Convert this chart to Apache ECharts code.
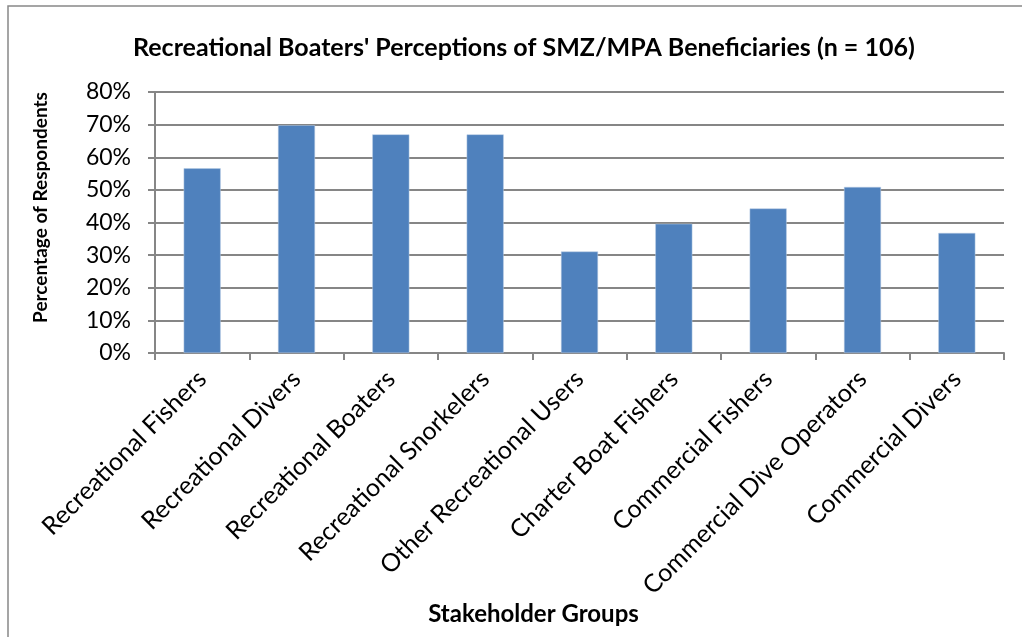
<!DOCTYPE html>
<html>
<head>
<meta charset="utf-8">
<script src="https://cdn.jsdelivr.net/npm/echarts@6/dist/echarts.min.js"></script>
<style>
  html, body { margin: 0; padding: 0; background: #fff; }
  #chart { width: 1022px; height: 637px; }
</style>
</head>
<body>
<div id="chart"></div>
<script>
// 数据：利益相关群体与受访者百分比
const categories = [
    'Recreational Fishers', 'Recreational Divers', 'Recreational Boaters',
    'Recreational Snorkelers', 'Other Recreational Users', 'Charter Boat Fishers',
    'Commercial Fishers', 'Commercial Dive Operators', 'Commercial Divers'
]
const values = [56.6, 69.8, 67.0, 67.0, 31.1, 39.6, 44.3, 50.9, 36.8]
const yTicks = [0, 10, 20, 30, 40, 50, 60, 70, 80]

const font = 'Lato, "Open Sans", sans-serif'
const chart = echarts.init(document.getElementById('chart'))

const option = {
    backgroundColor: '#fff',
    animation: false,
    title: {
        text: "Recreational Boaters' Perceptions of SMZ/MPA Beneficiaries (n = 106)",
        left: 128,
        top: 30,
        textStyle: { fontFamily: font, fontSize: 25, fontWeight: 'bold', color: '#000' }
    },
    graphic: [{
        type: 'rect',
        shape: { x: 8, y: 6, width: 1030, height: 660 },
        style: { fill: 'none', stroke: '#888', lineWidth: 1.5 },
        silent: true
    }],
    grid: { left: 155, right: 18, top: 92, bottom: 284, containLabel: false },
    xAxis: {
        type: 'category',
        data: categories,
        name: 'Stakeholder Groups',
        nameLocation: 'middle',
        nameGap: 241,
        nameTextStyle: {
            fontFamily: font, fontSize: 24, fontWeight: 'bold', color: '#000',
            padding: [0, 92, 0, 0]
        },
        axisLine: { lineStyle: { color: '#868686', width: 2 } },
        axisTick: { show: true, length: 7, lineStyle: { color: '#868686', width: 2 } },
        axisLabel: {
            rotate: 45,
            interval: 0,
            margin: 22,
            fontFamily: font,
            fontSize: 25,
            color: '#000'
        }
    },
    yAxis: {
        type: 'value',
        min: 0,
        max: 80,
        interval: 10,
        name: 'Percentage of Respondents',
        nameLocation: 'middle',
        nameGap: 105,
        nameTextStyle: {
            fontFamily: font, fontSize: 19, fontWeight: 'bold', color: '#000',
            padding: [0, 0, 0, 30]
        },
        axisLine: { show: true, lineStyle: { color: '#868686', width: 2 } },
        axisTick: { show: true, length: 7, lineStyle: { color: '#868686', width: 2 } },
        splitLine: { lineStyle: { color: '#868686', width: 2 } },
        axisLabel: {
            margin: 24,
            fontFamily: font,
            fontSize: 23,
            color: '#000',
            formatter: v => yTicks.includes(v) ? v + '%' : ''
        }
    },
    series: [{
        type: 'bar',
        data: values,
        barWidth: 37,
        itemStyle: { color: '#4F81BD', borderColor: '#B9CDE5', borderWidth: 0.5 }
    }]
}

chart.setOption(option)
</script>
</body>
</html>
